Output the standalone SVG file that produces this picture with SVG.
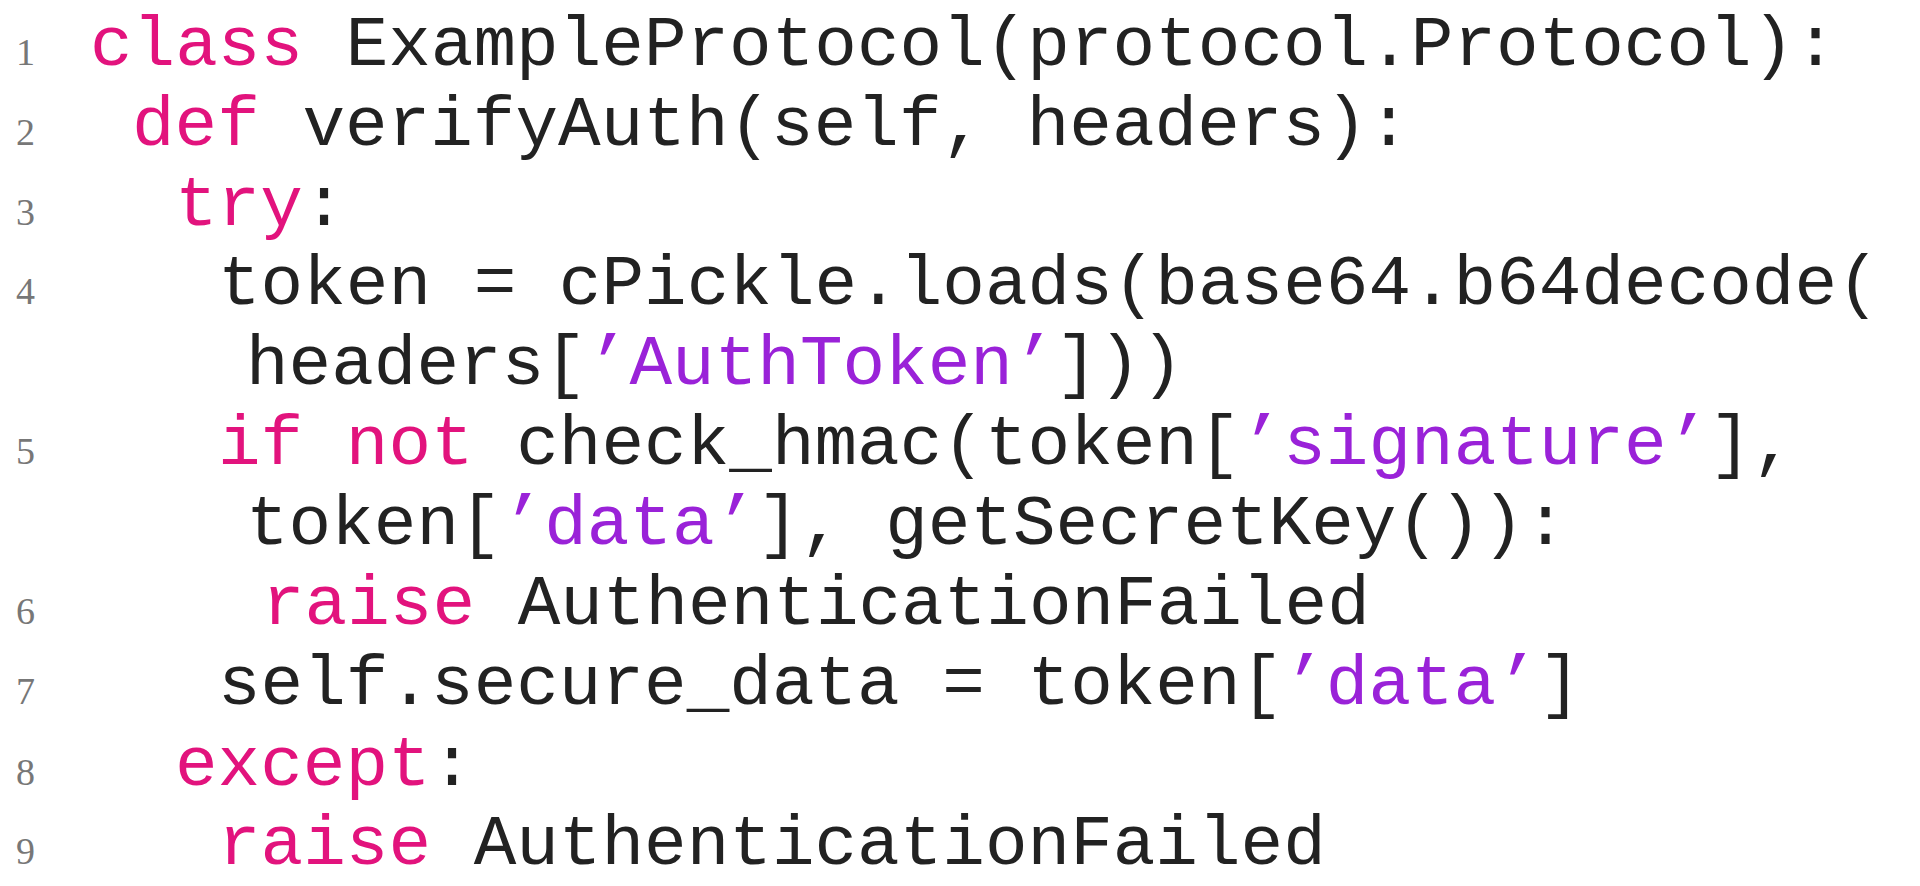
<svg xmlns="http://www.w3.org/2000/svg" width="1920" height="886" viewBox="0 0 1920 886">
<style>
.c{font-family:"Liberation Mono","Courier New",monospace;font-size:71px;fill:#222}
.k{fill:#e2137d}
.s{fill:#9a22d8}
.n{font-family:"Liberation Serif","Times New Roman",serif;font-size:38px;fill:#777}
</style>
<rect width="1920" height="886" fill="#fff"/>
<g id="numbers">
<text class="n" x="16" y="65">1</text>
<text class="n" x="16" y="145">2</text>
<text class="n" x="16" y="225">3</text>
<text class="n" x="16" y="304">4</text>
<text class="n" x="16" y="464">5</text>
<text class="n" x="16" y="624">6</text>
<text class="n" x="16" y="704">7</text>
<text class="n" x="16" y="785">8</text>
<text class="n" x="16" y="864">9</text>
</g>
<g id="code">
<text class="c" x="90" y="65"><tspan class="k">class</tspan> ExampleProtocol(protocol.Protocol):</text>
<text class="c" x="132" y="145"><tspan class="k">def</tspan> verifyAuth(self, headers):</text>
<text class="c" x="175" y="225"><tspan class="k">try</tspan>:</text>
<text class="c" x="218" y="304">token = cPickle.loads(base64.b64decode(</text>
<text class="c" x="246" y="384">headers[<tspan class="s">’AuthToken’</tspan>]))</text>
<text class="c" x="218" y="464"><tspan class="k">if not</tspan> check_hmac(token[<tspan class="s">’signature’</tspan>],</text>
<text class="c" x="246" y="544">token[<tspan class="s">’data’</tspan>], getSecretKey()):</text>
<text class="c" x="262" y="624"><tspan class="k">raise</tspan> AuthenticationFailed</text>
<text class="c" x="218" y="704">self.secure_data = token[<tspan class="s">’data’</tspan>]</text>
<text class="c" x="175" y="785"><tspan class="k">except</tspan>:</text>
<text class="c" x="218" y="864"><tspan class="k">raise</tspan> AuthenticationFailed</text>
</g>
</svg>
